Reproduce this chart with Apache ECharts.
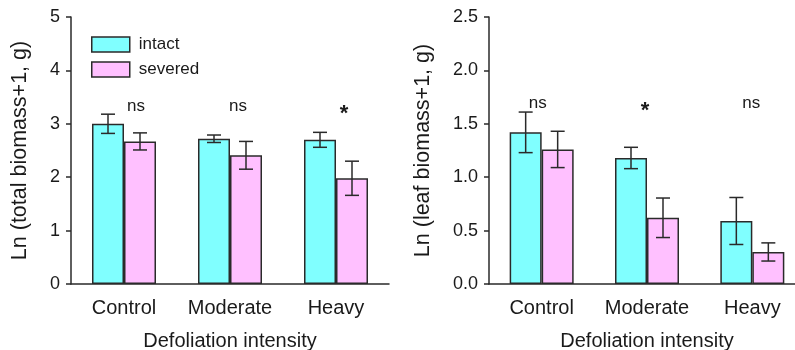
<!DOCTYPE html>
<html>
<head>
<meta charset="utf-8">
<script src="https://cdn.jsdelivr.net/npm/echarts@6/dist/echarts.min.js"></script>
<style>
html,body{margin:0;padding:0;background:#fff;}
#main{width:795px;height:350px;}
</style>
</head>
<body>
<div id="main"></div>
<script>
// ---- data ----
const categories = ['Control', 'Moderate', 'Heavy'];
const seriesNames = ['intact', 'severed'];

const totalIntact = [3.00, 2.72, 2.70];
const totalIntactErr = [0.18, 0.07, 0.14];
const totalSevered = [2.67, 2.41, 1.98];
const totalSeveredErr = [0.16, 0.26, 0.32];

const leafIntact = [1.42, 1.18, 0.59];
const leafIntactErr = [0.19, 0.10, 0.22];
const leafSevered = [1.26, 0.62, 0.30];
const leafSeveredErr = [0.17, 0.185, 0.085];

const totalSig = ['ns', 'ns', '*'];
const leafSig = ['ns', '*', 'ns'];

const totalTicks = [0, 1, 2, 3, 4, 5];
const leafTicks = ['0.0', '0.5', '1.0', '1.5', '2.0', '2.5'];

// ---- styling ----
const FONT = "'Liberation Sans', Arial, Helvetica, sans-serif";
const INK = '#1a1a1a';
const LINE = '#2a2a2a';
const CYAN = '#80FFFF';
const PINK = '#FFC0FF';
const BAR_W = 32;

function errData(vals, errs) {
  return vals.map((v, i) => [i, v, errs[i]]);
}
function errSeries(axisIdx, vals, errs, offset) {
  return {
    type: 'custom',
    xAxisIndex: axisIdx, yAxisIndex: axisIdx,
    z: 5,
    silent: true,
    encode: { x: 0, y: 1 },
    data: errData(vals, errs),
    renderItem: function (params, api) {
      const i = api.value(0), v = api.value(1), e = api.value(2);
      const top = api.coord([i, v + e]);
      const bot = api.coord([i, v - e]);
      const x = top[0] + offset;
      const cap = 7;
      const st = { stroke: LINE, lineWidth: 1.5 };
      return {
        type: 'group',
        children: [
          { type: 'line', shape: { x1: x, y1: top[1], x2: x, y2: bot[1] }, style: st },
          { type: 'line', shape: { x1: x - cap, y1: top[1], x2: x + cap, y2: top[1] }, style: st },
          { type: 'line', shape: { x1: x - cap, y1: bot[1], x2: x + cap, y2: bot[1] }, style: st }
        ]
      };
    }
  };
}
function sigSeries(axisIdx, labels, yVal, dx) {
  return {
    type: 'custom',
    xAxisIndex: axisIdx, yAxisIndex: axisIdx,
    z: 6,
    silent: true,
    encode: { x: 0, y: 1 },
    data: labels.map((t, i) => [i, yVal, t]),
    renderItem: function (params, api) {
      const i = api.value(0);
      const p = api.coord([i, api.value(1)]);
      const t = labels[params.dataIndex];
      const star = t === '*';
      return {
        type: 'text',
        x: p[0] + dx[params.dataIndex],
        y: p[1] + (star ? 10 : 0),
        style: {
          text: t,
          fill: INK,
          font: (star ? 'bold 22px ' : '17px ') + FONT,
          textAlign: 'center',
          textVerticalAlign: 'bottom'
        }
      };
    }
  };
}

function yAxisCfg(idx, max, interval, name, gap, fmt) {
  return {
    gridIndex: idx, type: 'value', min: 0, max: max, interval: interval,
    name: name, nameLocation: 'middle', nameGap: gap, nameRotate: 90,
    nameTextStyle: { fontFamily: FONT, fontSize: 21.5, color: INK },
    axisLine: { show: true, lineStyle: { color: LINE, width: 1.5 } },
    axisTick: { show: true, length: 5, inside: false, lineStyle: { color: LINE, width: 1.5 } },
    axisLabel: { fontFamily: FONT, fontSize: 18, color: INK, margin: 11, formatter: fmt },
    splitLine: { show: false }
  };
}
function xAxisCfg(idx) {
  return {
    gridIndex: idx, type: 'category', data: categories,
    name: 'Defoliation intensity', nameLocation: 'middle', nameGap: 47,
    nameTextStyle: { fontFamily: FONT, fontSize: 20, color: INK },
    axisLine: { show: true, lineStyle: { color: LINE, width: 1.5 } },
    axisTick: { show: false },
    axisLabel: { fontFamily: FONT, fontSize: 20, color: INK, margin: 14, interval: 0 },
    splitLine: { show: false }
  };
}
function barSeries(axisIdx, name, vals, color) {
  return {
    type: 'bar', name: name, xAxisIndex: axisIdx, yAxisIndex: axisIdx,
    data: vals, barWidth: BAR_W, barGap: '0%',
    itemStyle: { color: color, borderColor: LINE, borderWidth: 1.5 },
    emphasis: { disabled: true }
  };
}

const chart = echarts.init(document.getElementById('main'), null, { renderer: 'canvas' });
chart.setOption({
  animation: false,
  backgroundColor: '#fff',
  legend: {
    data: seriesNames,
    orient: 'vertical',
    left: 91, top: 36, padding: 0,
    itemWidth: 38, itemHeight: 15, itemGap: 8,
    icon: 'rect',
    textStyle: { fontFamily: FONT, fontSize: 17, color: INK, padding: [0, 0, 0, 4] },
    itemStyle: { borderColor: LINE, borderWidth: 1.5 },
    selectedMode: false
  },
  grid: [
    { left: 71, top: 17, width: 318, bottom: 66, containLabel: false, outerBoundsMode: 'none' },
    { left: 489, top: 17, width: 316, bottom: 66, containLabel: false, outerBoundsMode: 'none' }
  ],
  xAxis: [xAxisCfg(0), xAxisCfg(1)],
  yAxis: [
    yAxisCfg(0, 5, 1, 'Ln (total biomass+1, g)', 40, v => String(totalTicks[Math.round(v)])),
    yAxisCfg(1, 2.5, 0.5, 'Ln (leaf biomass+1, g)', 55, v => leafTicks[Math.round(v * 2)])
  ],
  series: [
    barSeries(0, 'intact', totalIntact, CYAN),
    barSeries(0, 'severed', totalSevered, PINK),
    barSeries(1, 'intact', leafIntact, CYAN),
    barSeries(1, 'severed', leafSevered, PINK),
    errSeries(0, totalIntact, totalIntactErr, -BAR_W / 2),
    errSeries(0, totalSevered, totalSeveredErr, BAR_W / 2),
    errSeries(1, leafIntact, leafIntactErr, -BAR_W / 2),
    errSeries(1, leafSevered, leafSeveredErr, BAR_W / 2),
    sigSeries(0, totalSig, 3.16, [12, 8, 8]),
    sigSeries(1, leafSig, 1.61, [-4, -2, -1])
  ]
});
</script>
</body>
</html>
